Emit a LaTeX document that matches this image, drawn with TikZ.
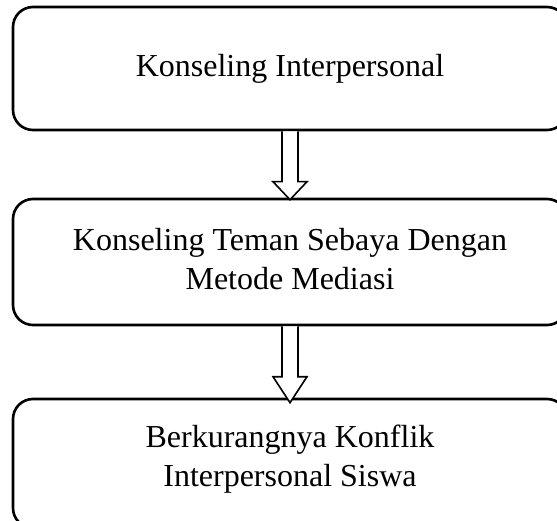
\documentclass[tikz,border=0pt]{standalone}
\usepackage{fontspec}
\setmainfont{Liberation Serif}
\usetikzlibrary{calc}
\begin{document}
\begin{tikzpicture}[x=1pt,y=-1pt,
  flowbox/.style={draw=black,line width=2.6pt,rounded corners=20pt,fill=white,
    minimum width=554pt,inner sep=0pt},
  flowtext/.style={align=center,font=\fontsize{32}{39}\selectfont},
  blockarrow/.style={draw=black,line width=1.6pt,fill=white,line join=miter}]
\useasboundingbox (0,0) rectangle (557,521);
\begin{scope}
\clip (0,0) rectangle (557,521);
\node[flowbox,minimum height=123pt] (b1) at (290,68.5) {};
\node[flowbox,minimum height=126pt] (b2) at (290,262) {};
\node[flowbox,minimum height=129pt] (b3) at (290,463.5) {};
\end{scope}
\node[flowtext] (t1) at (b1.center) {Konseling Interpersonal};
\node[flowtext] (t2) at ($(b2.center)+(0,-3)$) {Konseling Teman Sebaya Dengan\\Metode Mediasi};
\node[flowtext] (t3) at ($(b3.center)+(0,-4)$) {Berkurangnya Konflik\\Interpersonal Siswa};
% hollow arrow 1
\draw[blockarrow] ($(b1.south)+(-8,0)$) -- ($(b2.north)+(-8,-16)$) -- ($(b2.north)+(-17,-16)$)
  -- ($(b2.north)+(0,2)$) -- ($(b2.north)+(17,-16)$) -- ($(b2.north)+(8,-16)$)
  -- ($(b1.south)+(8,0)$);
% hollow arrow 2
\draw[blockarrow] ($(b2.south)+(-8,0)$) -- ($(b3.north)+(-8,-21)$) -- ($(b3.north)+(-17,-21)$)
  -- ($(b3.north)+(0,5)$) -- ($(b3.north)+(17,-21)$) -- ($(b3.north)+(8,-21)$)
  -- ($(b2.south)+(8,0)$);
\end{tikzpicture}
\end{document}
